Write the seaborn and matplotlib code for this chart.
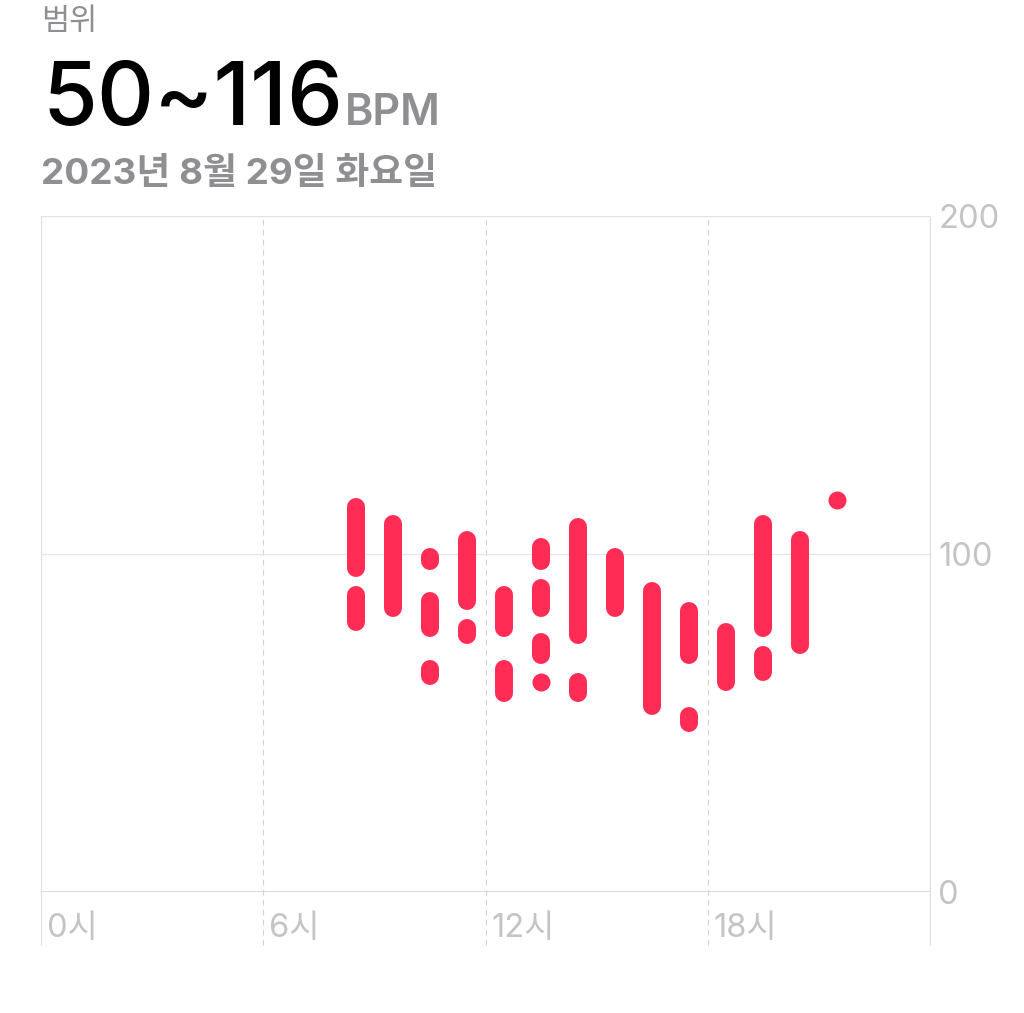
import matplotlib
matplotlib.use("Agg")
import matplotlib.pyplot as plt
from matplotlib import transforms
import seaborn as sns
import pandas as pd

# ---------------- data ----------------
seg_hour = [8, 8, 9, 10, 10, 10, 11, 11, 12, 12, 13, 13, 13, 13, 14, 14, 15, 16, 17, 17, 18, 19, 19, 20, 21]
seg_low  = [96, 80, 84, 98, 78, 64, 86, 76, 78, 59, 98, 84, 70, 62, 76, 59, 84, 55, 70, 50, 62, 78, 65, 73, 116]
seg_high = [114, 88, 109, 99, 86, 66, 104, 78, 88, 66, 102, 90, 74, 62, 108, 62, 99, 89, 83, 52, 77, 109, 70, 104, 116]

x_ticks = [0, 6, 12, 18]
x_tick_labels = ["0시", "6시", "12시", "18시"]
y_ticks = [0, 100, 200]
y_tick_labels = ["0", "100", "200"]

title_small = "범위"
title_range = "50~116"
title_unit = "BPM"
title_date = "2023년 8월 29일 화요일"

# ---------------- style ----------------
RED = "#FF2D55"
GRAY_TXT = "#8e8e93"
TICK_TXT = "#c4c4c6"
LATIN = ["Inter", "Noto Sans CJK KR", "DejaVu Sans"]

sns.set_theme(style="white")
plt.rcParams["font.family"] = ["Noto Sans CJK KR", "DejaVu Sans"]

W, H = 1024, 1013
fig = plt.figure(figsize=(W / 100, H / 100), dpi=100)
fig.patch.set_facecolor("white")

L, R, T, B = 41, 930, 216, 892
ax = fig.add_axes([L / W, (H - B) / H, (R - L) / W, (B - T) / H])
ax.set_facecolor("white")

px_per_bpm = (B - T) / 200.0
ext = -(945 - B) / px_per_bpm

# gridlines / frame
ax.vlines([6, 12, 18], ext, 200, colors="#d1d1d6", linewidth=0.8,
          linestyles=(0, (5, 4)), clip_on=False, zorder=1)
ax.vlines([0, 24], ext, 200, colors="#e0e0e2", linewidth=0.9, clip_on=False, zorder=1)
ax.axhline(100, color="#e5e5ea", linewidth=0.9, zorder=1)
ax.axhline(200, color="#e2e2e4", linewidth=0.9, zorder=1)
ax.axhline(0, color="#d6d6d8", linewidth=2.0, zorder=2)

# bars
lw_pt = 18 * 72 / 100.0
rows, dots = [], []
for i, (h, lo, hi) in enumerate(zip(seg_hour, seg_low, seg_high)):
    if lo == hi:
        dots.append({"x": h + 0.5, "bpm": lo})
    else:
        rows.append({"x": h + 0.5, "bpm": lo, "seg": i})
        rows.append({"x": h + 0.5, "bpm": hi, "seg": i})
df = pd.DataFrame(rows)
dfd = pd.DataFrame(dots)

sns.lineplot(data=df, x="x", y="bpm", units="seg", estimator=None, sort=False,
             color=RED, linewidth=lw_pt, solid_capstyle="round", ax=ax,
             legend=False, zorder=3)
sns.scatterplot(data=dfd, x="x", y="bpm", color=RED, s=lw_pt ** 2, linewidth=0,
                ax=ax, legend=False, zorder=3)

ax.set_xlim(0, 24)
ax.set_ylim(0, 200)
ax.set_xlabel("")
ax.set_ylabel("")
ax.grid(False)
for s in ax.spines.values():
    s.set_visible(False)

# ticks
ax.set_xticks(x_ticks)
ax.set_xticklabels(x_tick_labels, family=LATIN)
ax.tick_params(axis="x", length=0, pad=26, labelsize=23.5, labelcolor=TICK_TXT)
off = transforms.ScaledTranslation(6 / 100, 0, fig.dpi_scale_trans)
for lab in ax.get_xticklabels():
    lab.set_ha("left")
    lab.set_va("center")
    lab.set_transform(lab.get_transform() + off)

ax.yaxis.tick_right()
ax.set_yticks(y_ticks)
ax.set_yticklabels(y_tick_labels, family=LATIN)
ax.tick_params(axis="y", length=0, pad=6, labelsize=23.5, labelcolor=TICK_TXT)

# header texts
def fx(x):
    return x / W

def fy(y):
    return 1 - y / H

fig.text(fx(41), fy(22), title_small, fontsize=22, color=GRAY_TXT,
         va="center", ha="left", weight="medium")
num = fig.text(fx(42), fy(125), title_range, fontsize=64, color="black",
               va="baseline", ha="left", family=LATIN, weight="medium")
fig.canvas.draw()
bb = num.get_window_extent()
fig.text((bb.x1 + 2) / W, fy(125), title_unit, fontsize=31, color=GRAY_TXT,
         va="baseline", ha="left", family=LATIN, weight="semibold")
fig.text(fx(41), fy(184), title_date, fontsize=26.5, color=GRAY_TXT,
         va="baseline", ha="left", weight="bold", family=LATIN)

fig.savefig("out.png", dpi=100, facecolor="white")
